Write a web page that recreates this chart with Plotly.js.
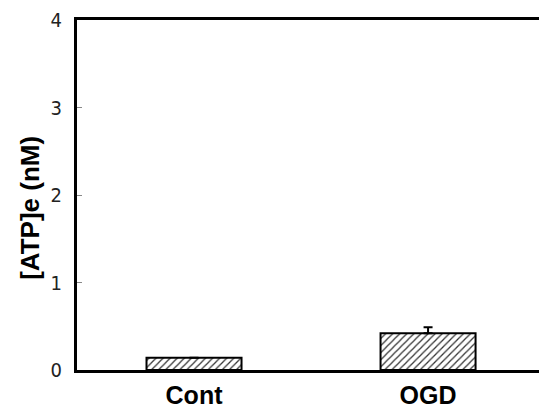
<!DOCTYPE html>
<html>
<head>
<meta charset="utf-8">
<script src="https://cdn.plot.ly/plotly-3.0.1.min.js"></script>
<style>
html,body{margin:0;padding:0;background:#fff;}
#chart{width:539px;height:411px;}
.ytick text{font-stretch:condensed !important;}
</style>
</head>
<body>
<div id="chart"></div>
<script>
const categories = ["Cont", "OGD"];
const atpValues = [0.14, 0.42];
const atpErrors = [0, 0.07];
const yTickVals = [0, 1, 2, 3, 4];
const yTickText = ["0", "1", "2", "3", "4"];
const yTitle = "[ATP]e (nM)";

const trace = {
  type: "bar",
  x: [0, 1],
  y: atpValues,
  width: 0.406,
  marker: {
    color: "#ffffff",
    line: {color: "#000000", width: 2},
    pattern: {shape: "/", fgcolor: "#333333", bgcolor: "#ffffff", size: 5, solidity: 0.25}
  },
  error_y: {
    type: "data",
    symmetric: false,
    array: atpErrors,
    arrayminus: [0, 0],
    color: "#000000",
    thickness: 2,
    width: 4.5
  },
  hoverinfo: "skip"
};

const layout = {
  width: 539,
  height: 411,
  margin: {l: 77, r: 0, t: 20, b: 41},
  paper_bgcolor: "#ffffff",
  plot_bgcolor: "#ffffff",
  showlegend: false,
  bargap: 0,
  xaxis: {
    range: [-0.5, 1.474],
    tickvals: [0, 1],
    ticktext: categories,
    ticks: "",
    showgrid: false,
    zeroline: false,
    showline: true,
    mirror: true,
    linecolor: "#000000",
    linewidth: 3,
    ticklabelstandoff: 1,
    tickfont: {family: "Liberation Sans, Arial, sans-serif", size: 25, weight: "bold", color: "#000"},
    fixedrange: true
  },
  yaxis: {
    range: [0, 4],
    tickvals: yTickVals,
    ticktext: yTickText,
    ticks: "inside",
    ticklen: 5,
    tickwidth: 1,
    tickcolor: "#888888",
    showgrid: false,
    zeroline: false,
    showline: true,
    linecolor: "#000000",
    linewidth: 3,
    ticklabelstandoff: 8,
    tickfont: {family: "Liberation Sans Narrow, DejaVu Sans, sans-serif", size: 20, color: "#222"},
    fixedrange: true
  },
  annotations: [{
    text: yTitle,
    textangle: -90,
    xref: "paper", yref: "paper",
    x: -0.102, y: 0.463,
    xanchor: "center", yanchor: "middle",
    showarrow: false,
    font: {family: "Liberation Sans, Arial, sans-serif", size: 26, weight: "bold", color: "#000"}
  }]
};

Plotly.newPlot("chart", [trace], layout, {displayModeBar: false, staticPlot: true});
</script>
</body>
</html>
